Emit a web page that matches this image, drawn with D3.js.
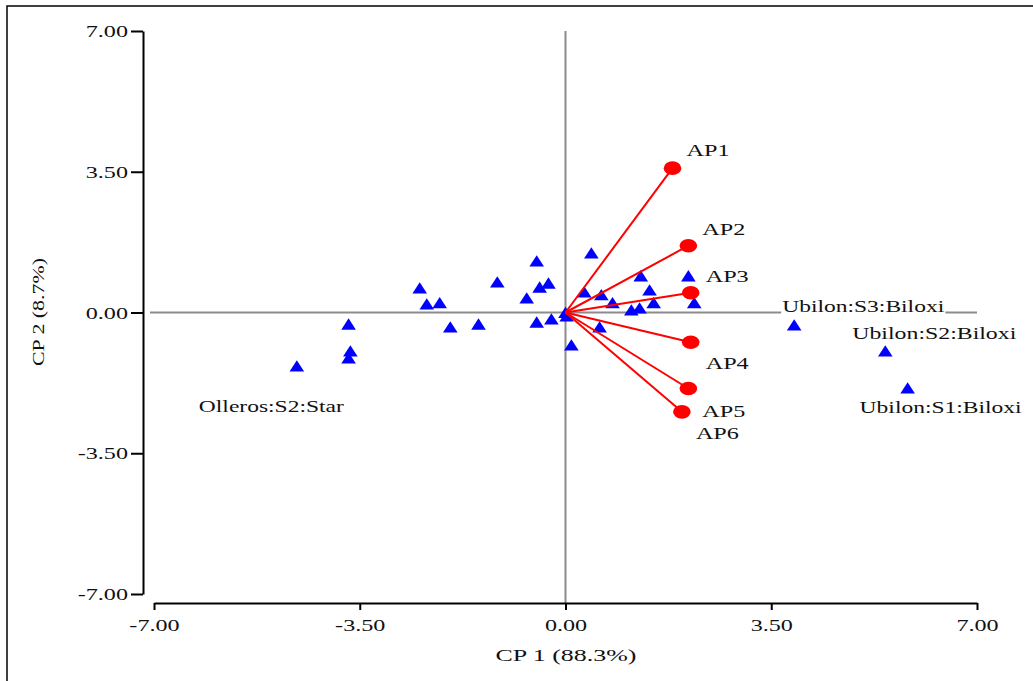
<!DOCTYPE html>
<html><head><meta charset="utf-8">
<script src="https://cdn.jsdelivr.net/npm/d3@7"></script>
<style>
body{margin:0;background:#fff}
svg text{font-family:"Liberation Serif","Times New Roman",serif;fill:#111;font-size:17.5px}
</style>
</head><body>
<svg id="chart" width="1033" height="681"></svg>
<script>
// ---- data ----
const xTicks = [-7, -3.5, 0, 3.5, 7];
const yTicks = [-7, -3.5, 0, 3.5, 7];
const xTitle = "CP 1 (88.3%)";
const yTitle = "CP 2 (8.7%)";

// observation scores (blue triangles)
const scoreX = [-4.57, -3.69, -3.66, -3.69, -2.48, -2.36, -2.14, -1.96, -1.48, -1.16,
                -0.66, -0.49, -0.44, -0.29, -0.49, -0.24, 0.02, 0.10, 0.44, 0.32,
                 0.61, 0.80, 0.58, 1.28, 1.43, 1.50, 1.12, 1.26, 2.09, 2.19,
                 3.89, 5.44, 5.82, 0.00];
const scoreY = [-1.33, -0.29, -0.96, -1.13, 0.61, 0.21, 0.24, -0.36, -0.29, 0.76,
                 0.36, 1.28, 0.63, 0.73, -0.24, -0.16, -0.09, -0.81, 1.48, 0.51,
                 0.44, 0.24, -0.36, 0.91, 0.56, 0.24, 0.06, 0.11, 0.91, 0.24,
                -0.31, -0.96, -1.88, 0.00];

// labelled observations
const obsLabels = ["Olleros:S2:Star", "Ubilon:S3:Biloxi", "Ubilon:S2:Biloxi", "Ubilon:S1:Biloxi"];
const obsLabelIndex = [0, 30, 31, 32];

// variable loadings (red vectors)
const variables = ["AP1", "AP2", "AP3", "AP4", "AP5", "AP6"];
const loadX = [1.82, 2.09, 2.13, 2.13, 2.09, 1.98];
const loadY = [3.59, 1.66, 0.49, -0.74, -1.89, -2.47];

// ---- drawing ----
const svg = d3.select("#chart");
const x = d3.scaleLinear().domain([-7, 7]).range([154, 977]);
const y = d3.scaleLinear().domain([-7, 7]).range([594, 31]);
const fmt = v => d3.format(".2f")(v).replace("\u2212", "-");

function stretch(sel, factor) {
  sel.each(function () {
    const w = this.getComputedTextLength();
    this.setAttribute("textLength", w * factor);
    this.setAttribute("lengthAdjust", "spacingAndGlyphs");
  });
}
function fitWidth(node, w) {
  node.setAttribute("textLength", w);
  node.setAttribute("lengthAdjust", "spacingAndGlyphs");
}

// frame (top and left edges visible)
svg.append("rect").attr("x", 7).attr("y", 6).attr("width", 1100).attr("height", 800)
  .attr("fill", "none").attr("stroke", "#000").attr("stroke-width", 1.5);

// zero reference lines
svg.append("line").attr("x1", x(-7) - 4).attr("x2", x(7)).attr("y1", y(0)).attr("y2", y(0))
  .attr("stroke", "#8c8c8c").attr("stroke-width", 2);
svg.append("line").attr("x1", x(0)).attr("x2", x(0)).attr("y1", y(7)).attr("y2", 603)
  .attr("stroke", "#8c8c8c").attr("stroke-width", 2);

// axes
const gy = svg.append("g").attr("transform", "translate(143,0)")
  .call(d3.axisLeft(y).tickValues(yTicks).tickFormat(fmt).tickSize(12).tickSizeOuter(0).tickPadding(3));
const gx = svg.append("g").attr("transform", "translate(0,603)")
  .call(d3.axisBottom(x).tickValues(xTicks).tickFormat(fmt).tickSize(7).tickSizeOuter(0).tickPadding(9));
[gx, gy].forEach(g => {
  g.selectAll("path.domain").attr("stroke", "#000").attr("stroke-width", 2);
  g.selectAll(".tick line").attr("stroke", "#000").attr("stroke-width", 2);
  g.selectAll(".tick text").attr("font-family", null).attr("font-size", null).style("fill", "#111");
  stretch(g.selectAll(".tick text"), 1.38);
});

// axis titles
const xt = svg.append("text").attr("x", 566).attr("y", 661).attr("text-anchor", "middle").text(xTitle);
fitWidth(xt.node(), 141);
const yt = svg.append("text").attr("transform", "translate(44,312) rotate(-90)")
  .attr("text-anchor", "middle").text(yTitle);
fitWidth(yt.node(), 108);

// triangles
const tri = "M0,-5.8L7.3,5.5L-7.3,5.5Z";
svg.append("g").selectAll("path").data(scoreX.map((v, i) => [v, scoreY[i]])).join("path")
  .attr("d", tri)
  .attr("transform", d => `translate(${x(d[0])},${y(d[1])})`)
  .attr("fill", "#0000ff");

// vectors
const vec = variables.map((n, i) => ({ n, vx: loadX[i], vy: loadY[i] }));
svg.append("g").selectAll("line").data(vec).join("line")
  .attr("x1", x(0)).attr("y1", y(0))
  .attr("x2", d => x(d.vx)).attr("y2", d => y(d.vy))
  .attr("stroke", "#ff0000").attr("stroke-width", 2);
svg.append("g").selectAll("ellipse").data(vec).join("ellipse")
  .attr("cx", d => x(d.vx)).attr("cy", d => y(d.vy))
  .attr("rx", 8.8).attr("ry", 6.8).attr("fill", "#ff0000");
const vOff = [[14, -12], [14, -11], [15, -11], [15, 27], [14, 28], [14, 27]];
svg.append("g").selectAll("text").data(vec).join("text")
  .attr("x", (d, i) => x(d.vx) + vOff[i][0])
  .attr("y", (d, i) => y(d.vy) + vOff[i][1])
  .text(d => d.n)
  .each(function () { fitWidth(this, 43); });

// observation labels
const oOff = [[-98, 46, 145], [-12, -13, 162], [-33, -12, 164], [-48, 25, 162]];
const lg = svg.append("g");
obsLabels.forEach((name, k) => {
  const i = obsLabelIndex[k];
  const px = x(scoreX[i]) + oOff[k][0], py = y(scoreY[i]) + oOff[k][1];
  const bg = lg.append("rect").attr("fill", "#fff");
  const t = lg.append("text").attr("x", px).attr("y", py).text(name);
  fitWidth(t.node(), oOff[k][2]);
  const b = t.node().getBBox();
  bg.attr("x", b.x - 1).attr("y", b.y).attr("width", b.width + 2).attr("height", b.height);
});
</script>
</body></html>
